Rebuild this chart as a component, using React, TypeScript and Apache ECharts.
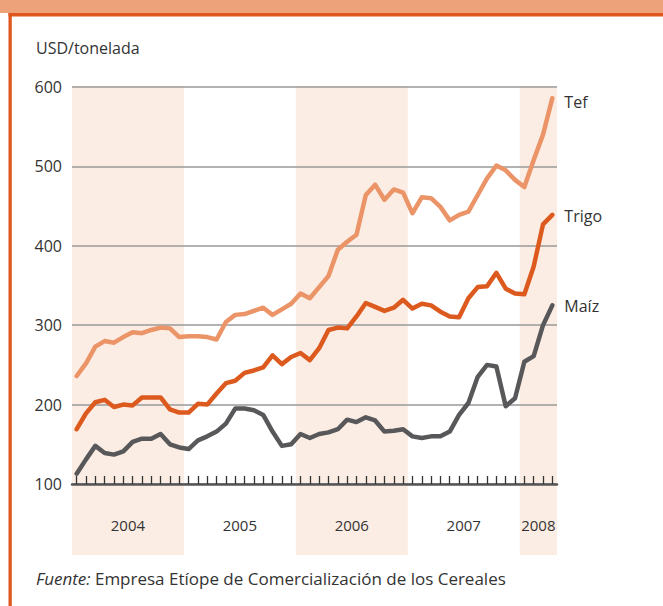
import React, { useEffect, useRef } from "react";
import * as echarts from "echarts";

const years = [2004, 2005, 2006, 2007, 2008];
const monthsPerYear = [12, 12, 12, 12, 4];
const months: string[] = [];
years.forEach((y, k) => {
  for (let m = 1; m <= monthsPerYear[k]; m++) months.push(`${y}-${m < 10 ? "0" + m : m}`);
});

const tef = [
  236, 252, 273, 280, 278, 285, 291, 290, 294, 297, 296, 285,
  286, 286, 285, 282, 304, 313, 314, 318, 322, 313, 320, 327,
  340, 334, 348, 362, 395, 405, 414, 464, 477, 458, 471, 467,
  441, 461, 460, 449, 432, 439, 443, 464, 485, 501, 495, 483,
  474, 508, 540, 586,
];
const trigo = [
  169, 189, 203, 206, 197, 200, 199, 209, 209, 209, 194, 190,
  190, 201, 200, 214, 227, 230, 240, 243, 247, 262, 251, 260,
  265, 256, 271, 294, 297, 296, 311, 328, 323, 318, 322, 332,
  321, 327, 325, 317, 311, 310, 334, 348, 349, 366, 346, 340,
  339, 374, 427, 439,
];
const maiz = [
  113, 131, 148, 139, 137, 141, 153, 157, 157, 163, 150, 146,
  144, 155, 160, 166, 176, 195, 195, 193, 187, 166, 148, 150,
  163, 158, 163, 165, 169, 181, 178, 184, 180, 166, 167, 169,
  160, 158, 160, 160, 166, 187, 202, 235, 250, 248, 198, 208,
  254, 261, 300, 325,
];
const yTicks = [100, 200, 300, 400, 500, 600];
const shadedYears = [2004, 2006, 2008];

const FONT = "'Open Sans', 'Noto Sans', sans-serif";

export default function App() {
  const ref = useRef<HTMLDivElement>(null);
  useEffect(() => {
    if (!ref.current) return;
    const chart = echarts.init(ref.current, null, { renderer: "svg", width: 663, height: 606 });
    const mk = (name: string, data: number[], color: string, offsetY: number) => ({
      name,
      type: "line",
      data,
      symbol: "none",
      z: 5,
      lineStyle: { color, width: 4.5, join: "round", cap: "round" },
      itemStyle: { color },
      endLabel: {
        show: true,
        formatter: "{a}",
        color: "#333",
        fontSize: 16,
        fontFamily: FONT,
        distance: 12,
        offset: [0, offsetY],
      },
    });
    chart.setOption({
      animation: false,
      backgroundColor: "#fff",
      grid: { left: 72, right: 106, top: 87, bottom: 122, containLabel: false },
      xAxis: {
        type: "category",
        data: months,
        boundaryGap: true,
        axisLine: { show: true, lineStyle: { color: "#555", width: 2.5 } },
        axisTick: {
          show: true,
          inside: true,
          alignWithLabel: true,
          interval: 0,
          length: 8,
          lineStyle: { color: "#333", width: 1.3 },
        },
        axisLabel: { show: false },
        splitLine: { show: false },
      },
      yAxis: {
        type: "value",
        min: yTicks[0],
        max: yTicks[yTicks.length - 1],
        interval: 100,
        axisLine: { show: false },
        axisTick: { show: false },
        axisLabel: { color: "#333", fontSize: 16, fontFamily: FONT, margin: 10 },
        splitLine: { show: true, lineStyle: { color: "#999", width: 1.5 } },
      },
      series: [
        mk("Tef", tef, "#EB9468", 4),
        mk("Trigo", trigo, "#DD5A1E", 1),
        mk("Maíz", maiz, "#58585A", 1),
      ],
    });

    const px = (i: number) => chart.convertToPixel({ xAxisIndex: 0 }, months[i]) as number;
    const step = px(1) - px(0);
    const yTop = chart.convertToPixel({ yAxisIndex: 0 }, yTicks[yTicks.length - 1]) as number;
    const yAxisPx = chart.convertToPixel({ yAxisIndex: 0 }, yTicks[0]) as number;
    const bandBottom = yAxisPx + 71;

    const elements: any[] = [];
    let start = 0;
    years.forEach((y, k) => {
      const n = monthsPerYear[k];
      const x0 = px(start) - step / 2;
      const x1 = px(start + n - 1) + step / 2;
      if (shadedYears.includes(y)) {
        elements.push({
          type: "rect",
          z: -10,
          shape: { x: x0, y: yTop - 1, width: x1 - x0, height: bandBottom - yTop + 1 },
          style: { fill: "#FBEDE3" },
        });
      }
      elements.push({
        type: "text",
        z: 10,
        style: {
          text: String(y),
          x: (x0 + x1) / 2,
          y: yAxisPx + 41,
          align: "center",
          verticalAlign: "middle",
          fill: "#333",
          fontSize: 15,
          fontFamily: FONT,
        },
      });
      start += n;
    });

    elements.push(
      { type: "rect", z: 20, shape: { x: 0, y: 0, width: 663, height: 13 }, style: { fill: "#EDA27A" } },
      { type: "rect", z: 20, shape: { x: 8.5, y: 13, width: 654.5, height: 3.5 }, style: { fill: "#E0561F" } },
      { type: "rect", z: 20, shape: { x: 8.5, y: 13, width: 3.3, height: 593 }, style: { fill: "#E0561F" } },
      {
        type: "text",
        z: 20,
        style: {
          text: "USD/tonelada",
          x: 36,
          y: 48,
          verticalAlign: "middle",
          fill: "#333",
          fontSize: 16,
          fontFamily: FONT,
        },
      },
      {
        type: "text",
        z: 20,
        style: {
          text: "{i|Fuente:} Empresa Etíope de Comercialización de los Cereales",
          x: 36,
          y: 578,
          verticalAlign: "middle",
          fill: "#333",
          fontSize: 17,
          fontFamily: FONT,
          rich: { i: { fontStyle: "italic", fontSize: 17, fontFamily: FONT, fill: "#333" } },
        },
      }
    );

    chart.setOption({ graphic: { elements } });
    return () => chart.dispose();
  }, []);
  return (
    <div
      ref={ref}
      style={{ position: "absolute", left: 0, top: 0, width: 663, height: 606, background: "#fff" }}
    />
  );
}
